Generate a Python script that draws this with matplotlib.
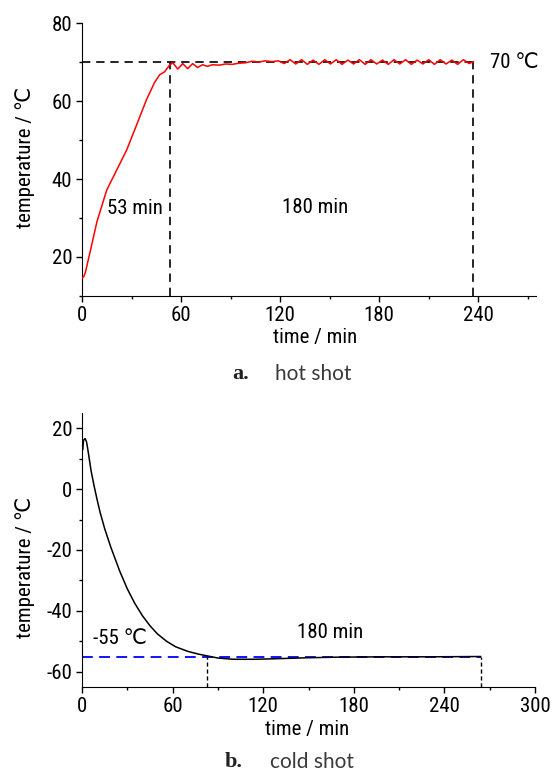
import matplotlib
matplotlib.use('agg')
import matplotlib.pyplot as plt
from matplotlib.ticker import MultipleLocator
from matplotlib import font_manager

# hot shot: heating up to 70 C, then held for 180 min
hot_t = [0, 1, 2, 5, 9, 15, 21, 27, 33, 39, 44, 47, 50, 53,
         55, 58, 61, 64, 67, 70, 73, 76, 79, 83, 87, 91, 95, 99,
         103, 107, 111, 115, 119,
         122.5, 126, 129.5, 133, 136.5, 140, 143.5, 147, 150.5, 154,
         157.5, 161, 164.5, 168, 171.5, 175, 178.5, 182, 185.5, 189,
         192.5, 196, 199.5, 203, 206.5, 210, 213.5, 217, 220.5, 224,
         227.5, 231, 234.5, 237]
hot_temp = [14.6, 14.9, 16.0, 21.5, 29.0, 37.2, 42.3, 47.4, 53.8, 60.3, 64.8, 66.7, 67.5, 69.2,
            69.8, 68.2, 69.6, 68.3, 69.6, 68.6, 69.3, 68.9, 69.3, 69.2, 69.5, 69.4, 69.7, 69.8,
            70.2, 70.0, 70.3, 70.1, 70.3,
            69.6, 70.6, 69.5, 70.6, 69.4, 70.5, 69.4, 70.6, 69.5, 70.6,
            69.4, 70.5, 69.5, 70.6, 69.4, 70.6, 69.5, 70.5, 69.4, 70.6,
            69.5, 70.6, 69.4, 70.5, 69.5, 70.6, 69.4, 70.6, 69.5, 70.5,
            69.4, 70.6, 69.6, 70.1]

# cold shot: cooling down to -55 C, then held for 180 min
cold_t = [0.5, 1, 2, 3, 4, 6, 8, 10, 12, 15, 19, 25, 30, 35, 40, 45, 50, 56,
          62, 70, 77, 83, 90, 100, 115, 130, 150, 170, 200, 230, 264]
cold_temp = [13.0, 16.0, 16.6, 15.5, 12.5, 6.0, 1.0, -3.5, -7.7, -13.0, -19.0, -27.0,
             -32.8, -37.6, -41.6, -44.9, -47.6, -50.0, -51.8, -53.3, -54.2, -54.8,
             -55.5, -55.9, -55.9, -55.7, -55.4, -55.2, -55.1, -55.1, -55.0]

hot_level, hot_start, hot_end = 70, 53, 237
cold_level, cold_start, cold_end = -55, 83, 264

# the original uses a narrow Arial; take a condensed face if there is one
names = {f.name for f in font_manager.fontManager.ttflist}
narrow = [n for n in ('Liberation Sans Narrow', 'Arial Narrow', 'Roboto Condensed',
                      'Open Sans Condensed', 'DejaVu Sans Condensed') if n in names]
if narrow:
    main_font, fs = narrow[0], 15
else:
    main_font, fs = 'Liberation Sans', 13.5
plt.rcParams['font.family'] = [main_font, 'DejaVu Sans']
plt.rcParams['font.size'] = fs
plt.rcParams['axes.unicode_minus'] = False

fig = plt.figure(figsize=(5.58, 7.73), dpi=100)
ax1 = fig.add_axes([0.147, 0.6171, 0.8136, 0.3531])
ax2 = fig.add_axes([0.147, 0.1113, 0.8118, 0.3545])

for ax in (ax1, ax2):
    for s in ('top', 'right'):
        ax.spines[s].set_visible(False)
    ax.tick_params(which='major', direction='out', length=4.5, width=1, pad=2.5, labelsize=fs)
    ax.tick_params(which='minor', direction='out', length=2.5, width=1)
    ax.xaxis.set_major_locator(MultipleLocator(60))
    ax.xaxis.set_minor_locator(MultipleLocator(30))

# panel a
ax1.plot(hot_t, hot_temp, color='#ff0000', lw=1.1, zorder=3)
ax1.plot([0, hot_end], [hot_level, hot_level], color='black', lw=1.2, ls=(0, (5, 3.5)), zorder=2)
ax1.plot([hot_start, hot_start], [10, hot_level], color='black', lw=1.2, ls=(0, (5, 3.5)), zorder=2)
ax1.plot([hot_end, hot_end], [10, hot_level], color='black', lw=1.2, ls=(0, (5, 3.5)), zorder=2)
ax1.set_xlim(0, 275)
ax1.set_ylim(10, 80)
ax1.yaxis.set_major_locator(MultipleLocator(20))
ax1.yaxis.set_minor_locator(MultipleLocator(10))
ax1.text(32, 32.5, '53 min', ha='center', va='center')
ax1.text(141, 32.8, '180 min', ha='center', va='center')
ax1.text(247, 70, '70 ℃', ha='left', va='center', clip_on=False)
ax1.set_xlabel('time / min', fontsize=fs)
ax1.set_ylabel('temperature / ℃', fontsize=fs)
ax1.xaxis.set_label_coords(0.513, -0.117)
ax1.yaxis.set_label_coords(-0.104, 0.509)

# panel b
ax2.plot(cold_t, cold_temp, color='black', lw=1.1, zorder=3)
ax2.plot([0, cold_end], [cold_level, cold_level], color='#0000ff', lw=1.3, ls=(0, (6, 3.5)), zorder=2)
ax2.plot([cold_start, cold_start], [-65, cold_level], color='black', lw=1.0, ls=(0, (3, 2)), zorder=2)
ax2.plot([cold_end, cold_end], [-65, cold_level], color='black', lw=1.0, ls=(0, (3, 2)), zorder=2)
ax2.set_xlim(0, 300)
ax2.set_ylim(-65, 25)
ax2.yaxis.set_major_locator(MultipleLocator(20))
ax2.yaxis.set_minor_locator(MultipleLocator(10))
ax2.text(7, -49, '-55 ℃', ha='left', va='center')
ax2.text(164, -47, '180 min', ha='center', va='center')
ax2.set_xlabel('time / min', fontsize=fs)
ax2.set_ylabel('temperature / ℃', fontsize=fs)
ax2.xaxis.set_label_coords(0.497, -0.12)
ax2.yaxis.set_label_coords(-0.104, 0.438)

# captions
cap = '#3a3a3a'
fig.text(232 / 558, 1 - 374 / 773, 'a.', fontsize=16, fontweight='bold',
         family=['Liberation Serif', 'DejaVu Serif'], color='#222222', va='center')
fig.text(275 / 558, 1 - 374 / 773, 'hot shot', fontsize=15,
         family=['Lato', 'DejaVu Sans'], color=cap, va='center')
fig.text(225 / 558, 1 - 762 / 773, 'b.', fontsize=16, fontweight='bold',
         family=['Liberation Serif', 'DejaVu Serif'], color='#222222', va='center')
fig.text(270 / 558, 1 - 762 / 773, 'cold shot', fontsize=15,
         family=['Lato', 'DejaVu Sans'], color=cap, va='center')

fig.savefig('out.png', dpi=100)
